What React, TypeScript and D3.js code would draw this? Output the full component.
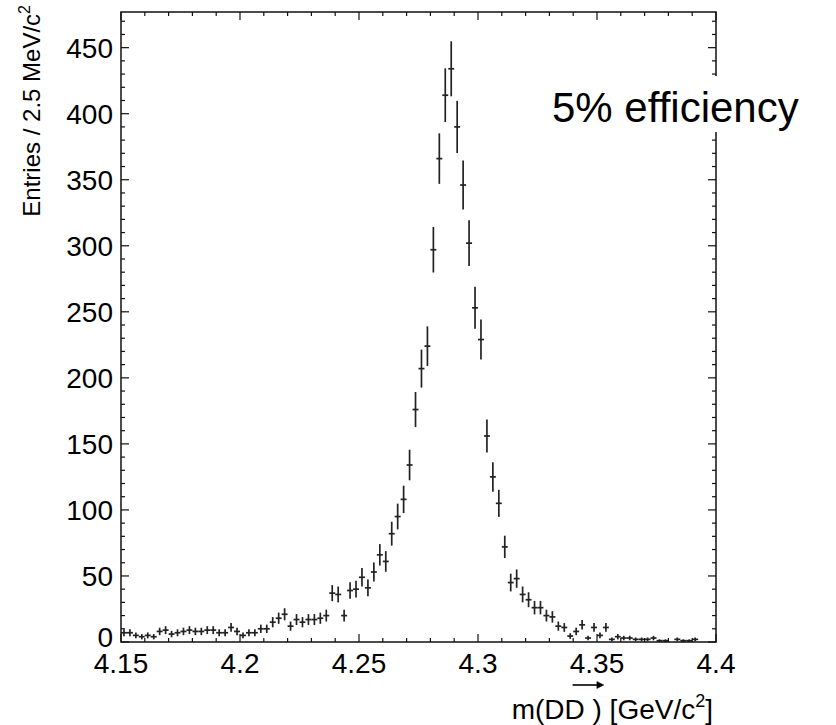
import React, { useRef, useLayoutEffect, useState } from "react";
import * as d3 from "d3";

// ---- data ----
const xDomain = [4.15, 4.4];
const binWidth = 0.0025;
const yDomainMax = 477;
const counts = [
  7, 7, 5, 4, 5, 4, 8, 9, 6, 7,
  8, 9, 8, 8, 9, 9, 7, 7, 11, 8,
  5, 7, 7, 10, 10, 15, 18, 21, 12, 17,
  15, 17, 17, 18, 20, 37, 36, 20, 39, 40,
  49, 41, 53, 66, 61, 82, 95, 108, 134, 176,
  207, 224, 297, 366, 414, 434, 390, 346, 302, 253,
  229, 156, 125, 105, 72, 45, 48, 36, 32, 26,
  26, 20, 19, 12, 11, 4.5, 8, 13, 3, 11,
  5, 11, 2, 4, 3, 3, 2, 2, 2, 3,
  1, 1, 0, 2, 1, 1, 2, 0, 0, 0,
];
const xMajorTicks = [4.15, 4.2, 4.25, 4.3, 4.35, 4.4];
const xTickLabels = ["4.15", "4.2", "4.25", "4.3", "4.35", "4.4"];
const yMajorTicks = [0, 50, 100, 150, 200, 250, 300, 350, 400, 450];
const yTickLabels = ["0", "50", "100", "150", "200", "250", "300", "350", "400", "450"];
const xMinorStep = 0.01;
const yMinorStep = 10;
const yTitle = "Entries / 2.5 MeV/c";
const xTitle = "m(DD ) [GeV/c";
const annotation = "5% efficiency";

const FONT = "'Liberation Sans', Arial, Helvetica, sans-serif";

export default function App() {
  const W = 836, H = 725;
  const L = 121, R = 716, T = 12, B = 642;
  const x = d3.scaleLinear().domain(xDomain).range([L, R]);
  const y = d3.scaleLinear().domain([0, yDomainMax]).range([B, T]);

  const xMinor = d3.range(xDomain[0], xDomain[1] + 1e-9, xMinorStep);
  const yMinor = d3.range(0, yDomainMax, yMinorStep);

  const titleRef = useRef<SVGTextElement>(null);
  const [arrow, setArrow] = useState<{ x1: number; x2: number } | null>(null);
  useLayoutEffect(() => {
    const t = titleRef.current;
    if (!t) return;
    try {
      const s = t.getStartPositionOfChar(3).x;
      const e = t.getEndPositionOfChar(3).x;
      const p = t.getEndPositionOfChar(5).x;
      setArrow({ x1: s + (e - s) * 0.4, x2: p + 2 });
    } catch (err) {}
  }, []);

  const majorLen = 8, minorLen = 4;
  const stroke = "#111";

  return (
    <svg width={W} height={H} style={{ position: "absolute", left: 0, top: 0, display: "block", background: "#fff" }}>
      {/* data */}
      <g stroke="#222" strokeWidth={1.7}>
        {counts.map((v, i) => {
          if (v <= 0) return null;
          const c = xDomain[0] + (i + 0.5) * binWidth;
          const err = Math.sqrt(v);
          const cx = x(c);
          return (
            <g key={i}>
              <line x1={cx} x2={cx} y1={y(v + err)} y2={y(Math.max(0, v - err))} />
              <line x1={x(c - binWidth / 2)} x2={x(c + binWidth / 2)} y1={y(v)} y2={y(v)} />
            </g>
          );
        })}
      </g>

      {/* ticks */}
      <g stroke={stroke} strokeWidth={1.2}>
        {xMinor.map((t, i) => {
          const major = xMajorTicks.some((m) => Math.abs(m - t) < 1e-6);
          const len = major ? majorLen : minorLen;
          return (
            <g key={"xt" + i}>
              <line x1={x(t)} x2={x(t)} y1={B} y2={B - len} />
              <line x1={x(t)} x2={x(t)} y1={T} y2={T + len} />
            </g>
          );
        })}
        {yMinor.map((t, i) => {
          const major = yMajorTicks.includes(t);
          const len = major ? majorLen : minorLen;
          return (
            <g key={"yt" + i}>
              <line x1={L} x2={L + len} y1={y(t)} y2={y(t)} />
              <line x1={R} x2={R - len} y1={y(t)} y2={y(t)} />
            </g>
          );
        })}
      </g>

      {/* frame */}
      <rect x={L} y={T} width={R - L} height={B - T} fill="none" stroke={stroke} strokeWidth={1.5} />

      {/* tick labels */}
      <g fontFamily={FONT} fontSize={28} fill="#000">
        {yMajorTicks.map((t, i) => (
          <text key={"yl" + i} x={113} y={y(t) - (t === 0 ? 5 : 0)} dy="0.36em" textAnchor="end">
            {yTickLabels[i]}
          </text>
        ))}
        {xMajorTicks.map((t, i) => (
          <text key={"xl" + i} x={x(t)} y={673} textAnchor="middle">
            {xTickLabels[i]}
          </text>
        ))}
      </g>

      {/* y title */}
      <text
        transform="translate(40,5) rotate(-90)"
        textAnchor="end"
        fontFamily={FONT}
        fontSize={24}
        fill="#000"
      >
        {yTitle}
        <tspan fontSize={16} dy={-10}>2</tspan>
      </text>

      {/* x title */}
      <text ref={titleRef} x={713} y={719} textAnchor="end" fontFamily={FONT} fontSize={28} fill="#000">
        {xTitle}
        <tspan fontSize={18} dy={-12}>2</tspan>
        <tspan dy={12}>]</tspan>
      </text>
      {arrow && (
        <g stroke="#000" strokeWidth={1.6} fill="#000">
          <line x1={arrow.x1} x2={arrow.x2 - 4} y1={685} y2={685} />
          <path d={`M${arrow.x2},685 L${arrow.x2 - 7},681.5 L${arrow.x2 - 7},688.5 Z`} strokeWidth={0.5} />
        </g>
      )}

      {/* annotation */}
      <rect x={548} y={76} width={258} height={56} fill="#fff" />
      <text x={552} y={122} fontFamily={FONT} fontSize={42} fill="#000">
        {annotation}
      </text>
    </svg>
  );
}
